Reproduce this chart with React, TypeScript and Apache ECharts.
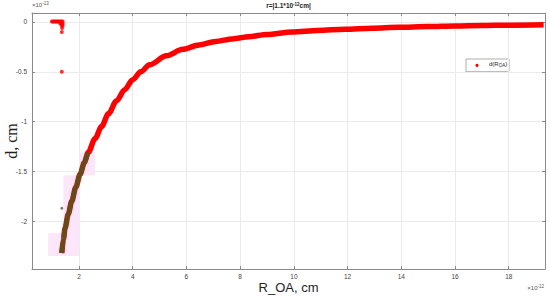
import React, { useEffect, useRef } from "react";
import * as echarts from "echarts";

// R_OA in units of 1e-12 cm, d in units of 1e-13 cm
const curveR = [1.36, 1.42, 1.48, 1.6, 1.73, 1.88, 2.04, 2.2, 2.34, 2.6, 2.84, 3.1, 3.4, 3.7, 4.0, 4.3, 4.63, 5.25, 5.86, 6.47, 7.09, 7.71, 8.32, 9.0, 9.94, 10.9, 11.9, 12.9, 13.9, 15.0, 16.0, 17.0, 18.0, 19.3];
const curveD = [-2.32, -2.18, -2.07, -1.93, -1.8, -1.66, -1.53, -1.41, -1.31, -1.17, -1.05, -0.92, -0.79, -0.68, -0.58, -0.5, -0.43, -0.34, -0.275, -0.23, -0.195, -0.17, -0.148, -0.125, -0.1, -0.085, -0.073, -0.062, -0.053, -0.046, -0.04, -0.036, -0.032, -0.028];

const darkR = [1.36, 1.42, 1.48, 1.6, 1.73, 1.88, 2.04, 2.2, 2.34];
const darkD = [-2.32, -2.18, -2.07, -1.93, -1.8, -1.66, -1.53, -1.41, -1.31];
const strayR = [1.36, 1.38];
const strayD = [-1.87, -2.17];

const clusterR = [0.99, 1.03, 1.07, 1.11, 1.15, 1.19, 1.23, 1.27, 1.31, 1.35, 1.39, 1.3, 1.35, 1.39, 1.36, 1.39, 1.37, 1.36, 1.36];
const clusterD = [0.005, 0.005, 0.005, 0.005, 0.005, 0.005, 0.005, 0.005, 0.005, 0.005, 0.005, -0.015, -0.015, -0.015, -0.035, -0.035, -0.06, -0.1, -0.5];

// shaded boxes [x0, x1, y0, y1] in data units
const shadeBoxes = [
  [0.85, 2.0, -2.35, -2.12],
  [1.42, 2.03, -2.26, -1.54],
  [2.03, 2.6, -1.54, -1.31],
];

const xTicks = [2, 4, 6, 8, 10, 12, 14, 16, 18];
const yTicks = [0, -0.5, -1, -1.5, -2];
const xRange = [0.25, 19.35];
const yRange = [-2.48, 0.09];

const zip = (a: number[], b: number[]) => a.map((v, i) => [v, b[i]]);
const tickFmt = (ticks: number[]) => (v: number) =>
  ticks.some((t) => Math.abs(t - v) < 1e-9) ? String(v === 0 ? 0 : v) : "";

export default function App() {
  const ref = useRef<HTMLDivElement>(null);
  useEffect(() => {
    if (!ref.current) return;
    const chart = echarts.init(ref.current, undefined, { renderer: "svg" });
    const axisColor = "#8a8a8a";
    const baseX = {
      type: "value",
      min: xRange[0],
      max: xRange[1],
      splitNumber: 9,
      minInterval: 2,
      maxInterval: 2,
    };
    const baseY = {
      type: "value",
      min: yRange[0],
      max: yRange[1],
      splitNumber: 5,
      minInterval: 0.5,
      maxInterval: 0.5,
    };
    const option: any = {
      animation: false,
      backgroundColor: "#ffffff",
      grid: { left: 32, right: 5, top: 13, bottom: 31, containLabel: false, outerBoundsMode: "none" },
      xAxis: [
        {
          ...baseX,
          position: "bottom",
          axisLine: { show: true, onZero: false, lineStyle: { color: axisColor, width: 1 } },
          axisTick: { show: true, inside: true, length: 3, lineStyle: { color: axisColor } },
          axisLabel: {
            formatter: tickFmt(xTicks),
            fontSize: 6.5,
            color: "#444",
            margin: 4,
            fontFamily: "Liberation Sans",
            showMinLabel: false,
            showMaxLabel: false,
          },
          splitLine: { show: true, lineStyle: { color: "#ebebeb", width: 1 } },
          name: "R_OA, cm",
          nameLocation: "middle",
          nameGap: 11.5,
          nameMoveOverlap: false,
          nameTextStyle: { fontSize: 13, fontFamily: "Liberation Sans", color: "#222" },
        },
        {
          ...baseX,
          position: "top",
          axisLine: { show: true, onZero: false, lineStyle: { color: axisColor, width: 1 } },
          axisTick: { show: true, inside: true, length: 3, lineStyle: { color: axisColor } },
          axisLabel: { show: false },
          splitLine: { show: false },
        },
      ],
      yAxis: [
        {
          ...baseY,
          position: "left",
          axisLine: { show: true, onZero: false, lineStyle: { color: axisColor, width: 1 } },
          axisTick: { show: true, inside: true, length: 3, lineStyle: { color: axisColor } },
          axisLabel: {
            formatter: tickFmt(yTicks),
            fontSize: 6.5,
            color: "#444",
            margin: 5,
            fontFamily: "Liberation Sans",
            showMinLabel: false,
            showMaxLabel: false,
          },
          splitLine: { show: true, lineStyle: { color: "#ebebeb", width: 1 } },
          name: "d, cm",
          nameLocation: "middle",
          nameGap: 13,
          nameMoveOverlap: false,
          nameTextStyle: { fontSize: 16, fontFamily: "Liberation Serif", color: "#222" },
        },
        {
          ...baseY,
          position: "right",
          axisLine: { show: true, onZero: false, lineStyle: { color: axisColor, width: 1 } },
          axisTick: { show: true, inside: true, length: 3, lineStyle: { color: axisColor } },
          axisLabel: { show: false },
          splitLine: { show: false },
        },
      ],
      series: [
        {
          type: "scatter",
          name: "shade",
          data: [],
          z: 1,
          silent: true,
          markArea: {
            silent: true,
            itemStyle: { color: "#fce6fa", opacity: 1 },
            data: shadeBoxes.map((b) => [
              { coord: [b[0], b[3]] },
              { coord: [b[1], b[2]] },
            ]),
          },
        },
        {
          type: "line",
          name: "d(R_OA)",
          data: zip(curveR, curveD),
          smooth: 0.3,
          smoothMonotone: "x",
          showSymbol: false,
          lineStyle: { color: "#ff0000", width: 5.5 },
          z: 3,
        },
        {
          type: "scatter",
          name: "d(R_OA) cluster",
          data: zip(clusterR, clusterD),
          symbolSize: 4,
          itemStyle: { color: "#ff0000" },
          z: 3,
        },
        {
          type: "line",
          name: "fit",
          data: zip(darkR, darkD),
          smooth: 0.3,
          smoothMonotone: "x",
          showSymbol: false,
          lineStyle: { color: "#5c4f1c", width: 4.5 },
          z: 4,
        },
        {
          type: "scatter",
          name: "fit stray",
          data: zip(strayR, strayD),
          symbolSize: 3,
          itemStyle: { color: "#6a5a3a" },
          z: 4,
        },
      ],
      graphic: [
        {
          type: "text",
          x: 288.5,
          y: 2,
          style: {
            text: "{a|r=|1.1*10}{s|-12}{a|cm|}",
            align: "center",
            verticalAlign: "top",
            rich: {
              a: { fontSize: 6.5, fontWeight: "bold", fontFamily: "Liberation Sans", fill: "#222", padding: [3, 0, 0, 0], verticalAlign: "bottom", lineHeight: 7 },
              s: { fontSize: 4.5, fontWeight: "bold", fontFamily: "Liberation Sans", fill: "#222", verticalAlign: "top", lineHeight: 5 },
            },
          },
        },
        {
          type: "text",
          x: 32,
          y: 1,
          style: {
            text: "{a|×10}{s|-13}",
            align: "left",
            verticalAlign: "top",
            rich: {
              a: { fontSize: 6, fontFamily: "Liberation Sans", fill: "#555", padding: [3, 0, 0, 0], verticalAlign: "bottom", lineHeight: 6.5 },
              s: { fontSize: 4.5, fontFamily: "Liberation Sans", fill: "#555", verticalAlign: "top", lineHeight: 5 },
            },
          },
        },
        {
          type: "text",
          x: 544,
          y: 284,
          style: {
            text: "{a|×10}{s|-12}",
            align: "right",
            verticalAlign: "top",
            rich: {
              a: { fontSize: 6, fontFamily: "Liberation Sans", fill: "#555", padding: [3, 0, 0, 0], verticalAlign: "bottom", lineHeight: 6.5 },
              s: { fontSize: 4.5, fontFamily: "Liberation Sans", fill: "#555", verticalAlign: "top", lineHeight: 5 },
            },
          },
        },
        {
          type: "group",
          x: 466,
          y: 59,
          z: 100,
          children: [
            {
              type: "rect",
              shape: { x: 0, y: 0, width: 43, height: 12.7 },
              style: { fill: "#ffffff", stroke: "#8a8a8a", lineWidth: 0.7 },
            },
            {
              type: "circle",
              shape: { cx: 11, cy: 6.3, r: 1.6 },
              style: { fill: "#ff0000" },
            },
            {
              type: "text",
              x: 23,
              y: 2,
              style: {
                text: "{a|d(R}{b|OA}{a|)}",
                align: "left",
                verticalAlign: "top",
                rich: {
                  a: { fontSize: 6, fontFamily: "Liberation Sans", fill: "#222", lineHeight: 6.5, verticalAlign: "top" },
                  b: { fontSize: 4.5, fontFamily: "Liberation Sans", fill: "#222", lineHeight: 4.5, padding: [3, 0, 0, 0], verticalAlign: "bottom" },
                },
              },
            },
          ],
        },
      ],
    };
    chart.setOption(option);
    return () => chart.dispose();
  }, []);
  return (
    <div
      ref={ref}
      style={{ position: "fixed", left: 0, top: 0, width: 550, height: 300, background: "#fff" }}
    />
  );
}
